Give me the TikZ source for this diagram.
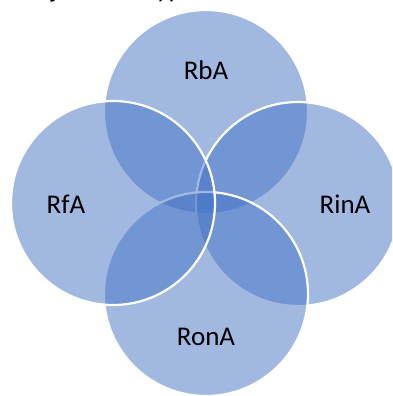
\documentclass[tikz,border=0pt]{standalone}
\usepackage{fontspec}
\setmainfont{Carlito}
\begin{document}
\begin{tikzpicture}[x=1pt,y=-1pt,
  ring/.style={draw=white, line width=2.2pt, fill={rgb,255:red,68;green,114;blue,196}, fill opacity=0.5},
  lbl/.style={font=\fontsize{27}{32}\selectfont, text=black, inner sep=0pt}]
  \useasboundingbox (0,0) rectangle (392,396);
  \clip (0,0) rectangle (392,396);
  % heading line, mostly above the page edge
  \node[lbl, anchor=base west] (title) at (15,-2) {Major RNA\hspace{6pt} types};
  % four overlapping circles
  \path[ring] (206,112) circle[radius=102] coordinate (ctop);
  \path[ring] (298,204) circle[radius=102] coordinate (cright);
  \path[ring] (206,294) circle[radius=102] coordinate (cbottom);
  \path[ring] (113,203) circle[radius=102] coordinate (cleft);
  % labels
  \node[lbl] (rba) at (206,70) {RbA};
  \node[lbl] (rina) at (345,204) {RinA};
  \node[lbl] (rona) at (206,337) {RonA};
  \node[lbl] (rfa) at (66,204) {RfA};
\end{tikzpicture}
\end{document}
